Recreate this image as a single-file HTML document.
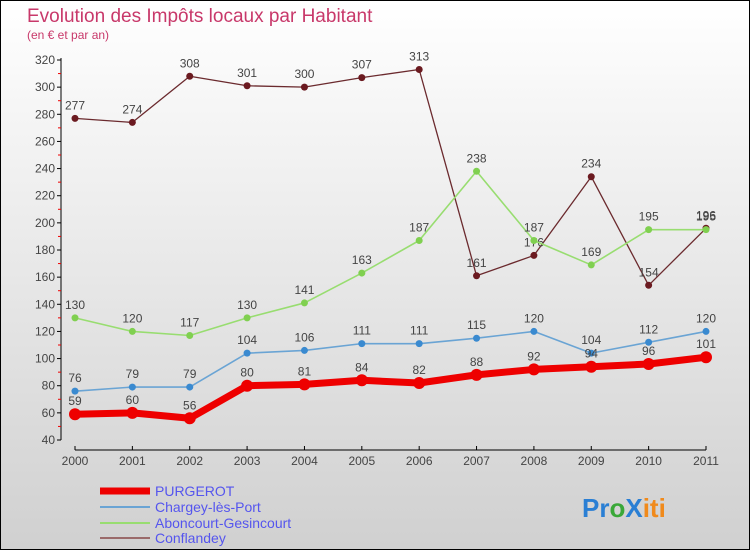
<!DOCTYPE html>
<html><head><meta charset="utf-8"><style>
body{margin:0}
#wrap{width:750px;height:550px;position:relative;overflow:hidden}
svg text{font-family:"Liberation Sans",sans-serif}
</style></head><body>
<div id="wrap">
<svg id="c" width="750" height="550">
<defs><linearGradient id="bg" x1="0" y1="0" x2="0" y2="1"><stop offset="0" stop-color="#ffffff"/><stop offset="1" stop-color="#d0d0d0"/></linearGradient></defs>
<rect x="0.5" y="0.5" width="749" height="549" fill="url(#bg)" stroke="#000"/>
<text x="27" y="22" font-size="19" fill="#c8386a">Evolution des Impôts locaux par Habitant</text>
<text x="27" y="39" font-size="12" fill="#c8386a">(en € et par an)</text>
<g id="axes"></g><g id="series"></g><g id="legend"></g>
<text x="582" y="517" font-size="26" font-weight="bold"><tspan fill="#2a7fd4">Pr</tspan><tspan fill="#3aa838">o</tspan><tspan fill="#2a7fd4">X</tspan><tspan fill="#f08a1c">iti</tspan></text>
</svg></div>
<script>
const years=[2000,2001,2002,2003,2004,2005,2006,2007,2008,2009,2010,2011];
const yTicks=[40,60,80,100,120,140,160,180,200,220,240,260,280,300,320];
const purgerot=[59,60,56,80,81,84,82,88,92,94,96,101];
const chargey=[76,79,79,104,106,111,111,115,120,104,112,120];
const aboncourt=[130,120,117,130,141,163,187,238,187,169,195,195];
const conflandey=[277,274,308,301,300,307,313,161,176,234,154,196];
const names=["PURGEROT","Chargey-lès-Port","Aboncourt-Gesincourt","Conflandey"];
const NS="http://www.w3.org/2000/svg";
function X(i){return 75+i*(706-75)/11}
function Y(v){return 440-(v-40)*(380/280)}
function mk(p,t,a){const e=document.createElementNS(NS,t);for(const k in a)e.setAttribute(k,a[k]);p.appendChild(e);return e}
const ax=document.getElementById('axes');
let l=mk(ax,'line',{x1:61,y1:58,x2:61,y2:440,stroke:'#000'});

l=mk(ax,'line',{x1:75,y1:450,x2:706,y2:450,stroke:'#000'});

yTicks.forEach((v,i)=>{
 const t=mk(ax,'line',{x1:57,y1:Y(v),x2:61,y2:Y(v),stroke:'#000'});
 
 if(i<yTicks.length-1){const m=mk(ax,'line',{x1:58,y1:Y(v+10),x2:61,y2:Y(v+10),stroke:'#e00'});
 }
 const tx=mk(ax,'text',{x:55,y:Y(v)+4,'font-size':12,fill:'#444','text-anchor':'end'});tx.textContent=v;
 
});
years.forEach((y,i)=>{
 const t=mk(ax,'line',{x1:X(i),y1:446,x2:X(i),y2:450,stroke:'#000'});
 
 const tx=mk(ax,'text',{x:X(i),y:465,'font-size':12,fill:'#444','text-anchor':'middle'});tx.textContent=y;
 
});
const sg=document.getElementById('series');
const defs=[[conflandey,'#6b2a2e','#6b1a20',1.3,3.5,'conflandey'],[aboncourt,'#98dd70','#80d050',1.6,3.5,'aboncourt-gesincourt'],[chargey,'#6aa4d4','#3a8ad0',1.6,3.5,'chargey-les-port'],[purgerot,'#ee0000','#ee0000',7,6,'purgerot']];
defs.forEach(([d,c,mc,w,r,n])=>{
 const g=mk(sg,'g',{});
 const p=mk(g,'polyline',{points:d.map((v,i)=>X(i)+','+Y(v)).join(' '),fill:'none',stroke:c,'stroke-width':w,'stroke-linejoin':'round'});
 
 d.forEach((v,i)=>{
  const pt=mk(g,'circle',{cx:X(i),cy:Y(v),r:r,fill:mc});
  
  const t=mk(g,'text',{x:X(i),y:Y(v)-9,'font-size':12,fill:'#444','text-anchor':'middle'});t.textContent=v;
  
 });
});
const lg=document.getElementById('legend');
const lc=['#ee0000','#6aa4d4','#98dd70','#9a6a6a'],lw=[7,2,2,2],ly=[491,507,523,538];
names.forEach((nm,i)=>{
 const s=mk(lg,'line',{x1:100,y1:ly[i],x2:150,y2:ly[i],stroke:lc[i],'stroke-width':lw[i]});
 
 const t=mk(lg,'text',{x:155,y:ly[i]+5,'font-size':14,fill:'#5555ee'});t.textContent=nm;
 
});
</script></body></html>
